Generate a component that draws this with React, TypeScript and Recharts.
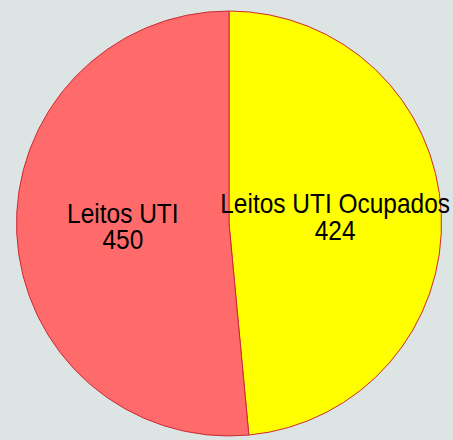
import { PieChart, Pie, Cell } from 'recharts'

const names = ['Leitos UTI Ocupados', 'Leitos UTI']
const values = [424, 450]
const COLORS = ['#ffff00', '#ff6b6b']

const data = names.map((name, i) => ({ name, value: values[i] }))

const RADIAN = Math.PI / 180

function renderLabel(props: any) {
  const { cx, cy, midAngle, outerRadius, index } = props
  const r = outerRadius * 0.5
  const x = cx + r * Math.cos(-midAngle * RADIAN)
  const y = cy + r * Math.sin(-midAngle * RADIAN)
  // condensed look: squeeze the text horizontally around its anchor
  const squeeze = `translate(${x} 0) scale(0.89 1) translate(${-x} 0)`
  return (
    <text
      x={x}
      y={y - 5.5}
      textAnchor="middle"
      fill="#000"
      fontFamily="'Liberation Sans', Arial, sans-serif"
      fontSize={27.5}
      transform={squeeze}
    >
      <tspan x={x}>{data[index].name}</tspan>
      <tspan x={x} dy={26.5}>{data[index].value}</tspan>
    </text>
  )
}

export default function App() {
  return (
    <div style={{ position: 'absolute', left: 0, top: 0, width: 453, height: 440, background: '#dde5e4' }}>
      <PieChart width={453} height={440} margin={{ top: 0, right: 0, bottom: 0, left: 0 }}>
        <Pie
          data={data}
          dataKey="value"
          cx={229}
          cy={223.5}
          outerRadius={212.5}
          startAngle={90}
          endAngle={-270}
          stroke="#cc2a36"
          strokeWidth={1}
          label={renderLabel}
          labelLine={false}
          isAnimationActive={false}
        >
          {data.map((_, i) => (
            <Cell key={`cell-${i}`} fill={COLORS[i]} />
          ))}
        </Pie>
      </PieChart>
    </div>
  )
}
